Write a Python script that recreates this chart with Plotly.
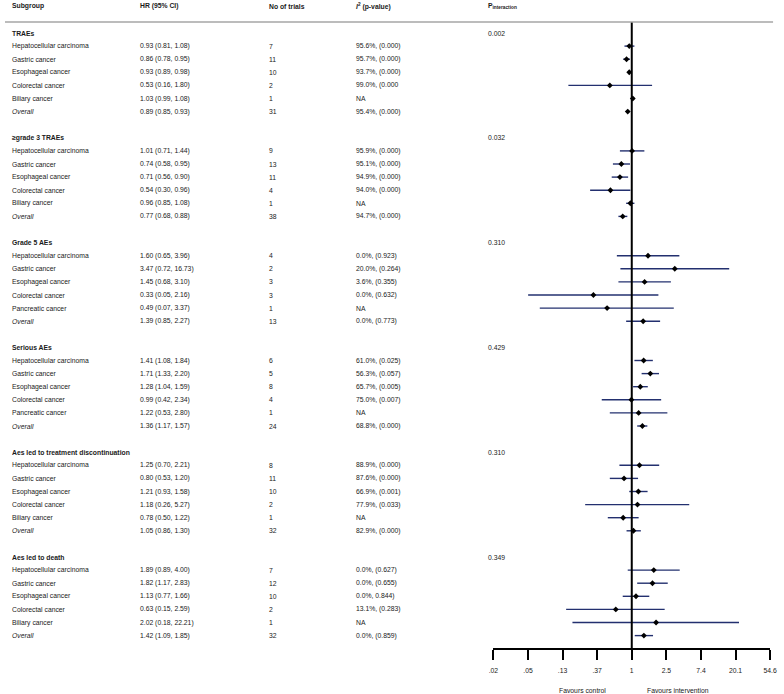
import math
import plotly.graph_objects as go

# ---------------- data ----------------
groups = ["TRAEs", "≥grade 3 TRAEs", "Grade 5 AEs", "Serious AEs",
          "Aes led to treatment discontinuation", "Aes led to death"]
p_interaction = ["0.002", "0.032", "0.310", "0.429", "0.310", "0.349"]

subgroups = [
    ["Hepatocellular carcinoma", "Gastric cancer", "Esophageal cancer", "Colorectal cancer", "Biliary cancer", "Overall"],
    ["Hepatocellular carcinoma", "Gastric cancer", "Esophageal cancer", "Colorectal cancer", "Biliary cancer", "Overall"],
    ["Hepatocellular carcinoma", "Gastric cancer", "Esophageal cancer", "Colorectal cancer", "Pancreatic cancer", "Overall"],
    ["Hepatocellular carcinoma", "Gastric cancer", "Esophageal cancer", "Colorectal cancer", "Pancreatic cancer", "Overall"],
    ["Hepatocellular carcinoma", "Gastric cancer", "Esophageal cancer", "Colorectal cancer", "Biliary cancer", "Overall"],
    ["Hepatocellular carcinoma", "Gastric cancer", "Esophageal cancer", "Colorectal cancer", "Biliary cancer", "Overall"],
]

hr = [
    [0.93, 0.86, 0.93, 0.53, 1.03, 0.89],
    [1.01, 0.74, 0.71, 0.54, 0.96, 0.77],
    [1.60, 3.47, 1.45, 0.33, 0.49, 1.39],
    [1.41, 1.71, 1.28, 0.99, 1.22, 1.36],
    [1.25, 0.80, 1.21, 1.18, 0.78, 1.05],
    [1.89, 1.82, 1.13, 0.63, 2.02, 1.42],
]
ci_low = [
    [0.81, 0.78, 0.89, 0.16, 0.99, 0.85],
    [0.71, 0.58, 0.56, 0.30, 0.85, 0.68],
    [0.65, 0.72, 0.68, 0.05, 0.07, 0.85],
    [1.08, 1.33, 1.04, 0.42, 0.53, 1.17],
    [0.70, 0.53, 0.93, 0.26, 0.50, 0.86],
    [0.89, 1.17, 0.77, 0.15, 0.18, 1.09],
]
ci_high = [
    [1.08, 0.95, 0.98, 1.80, 1.08, 0.93],
    [1.44, 0.95, 0.90, 0.96, 1.08, 0.88],
    [3.96, 16.73, 3.10, 2.16, 3.37, 2.27],
    [1.84, 2.20, 1.59, 2.34, 2.80, 1.57],
    [2.21, 1.20, 1.58, 5.27, 1.22, 1.30],
    [4.00, 2.83, 1.66, 2.59, 22.21, 1.85],
]
n_trials = [
    [7, 11, 10, 2, 1, 31],
    [9, 13, 11, 4, 1, 38],
    [4, 2, 3, 3, 1, 13],
    [6, 5, 8, 4, 1, 24],
    [8, 11, 10, 2, 1, 32],
    [7, 12, 10, 2, 1, 32],
]
i2_text = [
    ["95.6%, (0.000)", "95.7%, (0.000)", "93.7%, (0.000)", "99.0%, (0.000", "NA", "95.4%, (0.000)"],
    ["95.9%, (0.000)", "95.1%, (0.000)", "94.9%, (0.000)", "94.0%, (0.000)", "NA", "94.7%, (0.000)"],
    ["0.0%, (0.923)", "20.0%, (0.264)", "3.6%, (0.355)", "0.0%, (0.632)", "NA", "0.0%, (0.773)"],
    ["61.0%, (0.025)", "56.3%, (0.057)", "65.7%, (0.005)", "75.0%, (0.007)", "NA", "68.8%, (0.000)"],
    ["88.9%, (0.000)", "87.6%, (0.000)", "66.9%, (0.001)", "77.9%, (0.033)", "NA", "82.9%, (0.000)"],
    ["0.0%, (0.627)", "0.0%, (0.655)", "0.0%, 0.844)", "13.1%, (0.283)", "NA", "0.0%, (0.859)"],
]

tick_vals = [math.exp(k) for k in range(-4, 5)]
tick_text = [".02", ".05", ".13", ".37", "1", "2.5", "7.4", "20.1", "54.6"]

# ---------------- layout helpers ----------------
W, H = 784, 694
ROW0_PX, ROW_H = 33.0, 13.1  # pixel of first row, row pitch


def row_of(px):
    return (px - ROW0_PX) / ROW_H


def px_x(px):
    return px / W


def px_y(px):
    return 1 - px / H


FONT = "Arial, Liberation Sans, sans-serif"
FS = 6.8
TXT = "#1a1a1a"
NAVY = "#23306f"

col_x = [7, 137, 268, 356, 490]  # pixel x of columns

annotations = []


def add_text(x, row, text, bold=False, italic=False):
    t = text
    if bold:
        t = f"<b>{t}</b>"
    if italic:
        t = f"<i>{t}</i>"
    annotations.append(dict(x=px_x(x), xref="paper", y=row, yref="y", text=t,
                            showarrow=False, xanchor="left", yanchor="middle",
                            borderpad=0, borderwidth=0,
                            font=dict(family=FONT, size=FS, color=TXT)))


# header row
hrow = row_of(6)
add_text(col_x[0], hrow, "Subgroup", bold=True)
add_text(col_x[1], hrow, "HR (95% CI)", bold=True)
add_text(col_x[2], hrow, "No of trials", bold=True)
add_text(col_x[3], hrow, "<i>I</i><sup>2</sup> (p-value)", bold=True)
add_text(col_x[4], hrow, "P<sub>interaction</sub>", bold=True)

ci_x, ci_y, pt_x, pt_y = [], [], [], []
for gi, g in enumerate(groups):
    r0 = gi * 8
    add_text(col_x[0], r0, g, bold=True)
    add_text(col_x[4], r0, p_interaction[gi])
    for si, s in enumerate(subgroups[gi]):
        r = r0 + 1 + si
        add_text(col_x[0], r, s, italic=(s == "Overall"))
        add_text(col_x[1], r, f"{hr[gi][si]:.2f} ({ci_low[gi][si]:.2f}, {ci_high[gi][si]:.2f})")
        add_text(col_x[2], r, str(n_trials[gi][si]))
        add_text(col_x[3], r, i2_text[gi][si])
        ci_x += [ci_low[gi][si], ci_high[gi][si], None]
        ci_y += [r, r, None]
        pt_x.append(hr[gi][si])
        pt_y.append(r)

axis_row = row_of(649)
top_row = row_of(22)

fig = go.Figure()
fig.add_trace(go.Scatter(x=ci_x, y=ci_y, mode="lines",
                         line=dict(color=NAVY, width=1.4), hoverinfo="skip",
                         showlegend=False))
fig.add_trace(go.Scatter(x=[1, 1], y=[top_row, axis_row], mode="lines",
                         line=dict(color="black", width=2), showlegend=False,
                         hoverinfo="skip"))
fig.add_trace(go.Scatter(x=pt_x, y=pt_y, mode="markers",
                         marker=dict(symbol="diamond", size=4.5, color="black"),
                         showlegend=False))

# favours labels
for txt, cx in [("Favours control", 586), ("Favours intervention", 683)]:
    annotations.append(dict(x=px_x(cx), xref="paper", y=px_y(690), yref="paper",
                            text=txt, showarrow=False,
                            xanchor="center", yanchor="middle",
                            borderpad=0, borderwidth=0,
                            font=dict(family=FONT, size=FS, color=TXT)))

fig.update_layout(
    width=W, height=H,
    margin=dict(l=0, r=0, t=0, b=0),
    paper_bgcolor="white", plot_bgcolor="rgba(0,0,0,0)",
    showlegend=False,
    annotations=annotations,
    shapes=[dict(type="line", xref="paper", yref="paper",
                 x0=0, x1=px_x(780), y0=px_y(22), y1=px_y(22),
                 line=dict(color="#a6a6a6", width=1.6))],
    xaxis=dict(type="log", domain=[px_x(496), px_x(777)],
               range=[math.log10(math.exp(-4)), math.log10(math.exp(4))],
               anchor="free", position=px_y(649),
               tickmode="array", tickvals=tick_vals, ticktext=tick_text,
               ticks="outside", ticklen=10, tickwidth=2, tickcolor="black",
               ticklabelstandoff=5,
               showline=True, linecolor="black", linewidth=2,
               showgrid=False, zeroline=False,
               tickfont=dict(family=FONT, size=FS, color=TXT)),
    yaxis=dict(range=[row_of(H), row_of(0)], domain=[0, 1], visible=False,
               showgrid=False, zeroline=False),
)

fig.write_html("out.html",
               config={"displayModeBar": False},
               post_script="document.body.style.margin='0px';")
